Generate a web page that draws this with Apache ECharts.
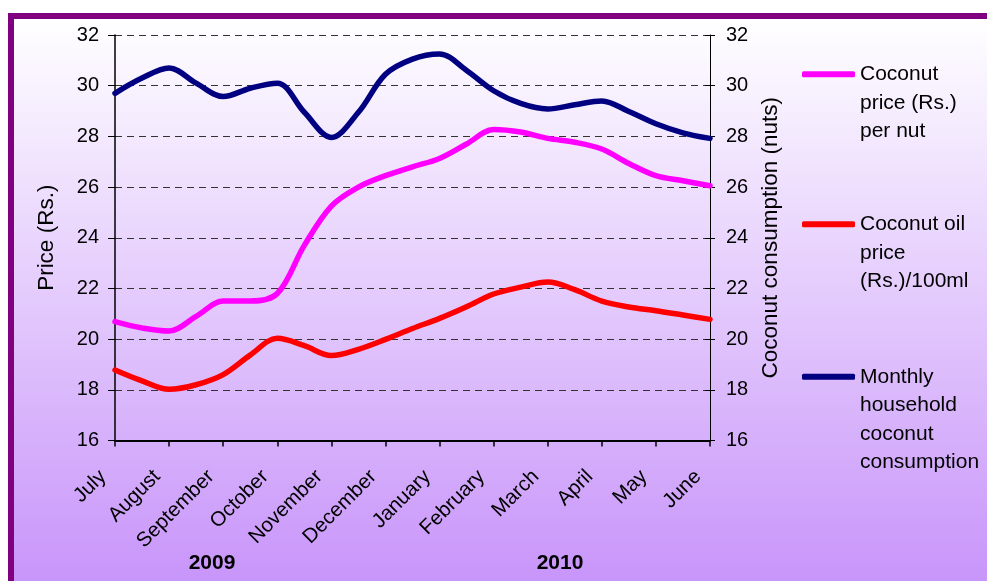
<!DOCTYPE html>
<html><head><meta charset="utf-8">
<script src="https://cdn.jsdelivr.net/npm/echarts@6/dist/echarts.min.js"></script>
<style>html,body{margin:0;padding:0;background:#fff}#c{width:987px;height:581px}</style>
</head><body><div id="c"></div>
<script>
const months = ['July','August','September','October','November','December','January','February','March','April','May','June'];
const timePoints = [0,0.5,1,1.5,2,2.5,3,3.5,4,4.5,5,5.5,6,6.5,7,7.5,8,8.5,9,9.5,10,10.5,11];
const coconutPrice = [20.69,20.44,20.32,20.9,21.5,21.5,21.8,23.7,25.25,26.0,26.45,26.8,27.13,27.7,28.27,28.17,27.92,27.77,27.5,26.93,26.45,26.25,26.05];
const coconutOilPrice = [18.78,18.35,18.02,18.2,18.6,19.37,20.03,19.74,19.35,19.6,19.99,20.42,20.82,21.28,21.78,22.05,22.25,21.95,21.5,21.27,21.12,20.95,20.78];
const consumption = [29.7,30.3,30.7,30.1,29.57,29.9,30.1,28.95,27.96,28.95,30.45,31.05,31.25,30.6,29.8,29.3,29.08,29.25,29.4,28.98,28.5,28.14,27.92];
const seriesNames = ['Coconut price (Rs.) per nut','Coconut oil price (Rs.)/100ml','Monthly household coconut consumption'];
const legendLabels = ['Coconut\nprice (Rs.)\nper nut','Coconut oil\nprice\n(Rs.)/100ml','Monthly\nhousehold\ncoconut\nconsumption'];
const yearLabels = ['2009','2010'];
const yMin = 16, yMax = 32, yStep = 2;
const leftAxisName = 'Price (Rs.)';
const rightAxisName = 'Coconut consumption (nuts)';

const FONT = "'Liberation Sans', Arial, sans-serif";
const colors = ['#FF00FF','#FF0000','#000080'];
const seriesData = [coconutPrice, coconutOilPrice, consumption];
const LH = 28.5;
const legendTops = [3, 153, 277];

const chart = echarts.init(document.getElementById('c'), null, {renderer:'canvas'});
const option = {
  animation: false,
  textStyle: {fontFamily: FONT},
  grid: {left: 115, right: 277, top: 35, bottom: 140.5},
  xAxis: {
    type: 'value', min: 0, max: 11, interval: 1,
    axisLine: {show: true, onZero: false, lineStyle: {color: '#000', width: 2}},
    axisTick: {show: true, length: 6, lineStyle: {color: '#000', width: 1.5}},
    splitLine: {show: false},
    axisLabel: {
      rotate: 45, margin: 21,
      fontSize: 20.5, color: '#000', fontFamily: FONT,
      showMinLabel: true, showMaxLabel: true,
      formatter: v => '{m|' + (months[v] || '') + '}',
      rich: {m: {fontSize: 20.5, color: '#000', fontFamily: FONT, padding: [0, 17, 0, 0]}}
    }
  },
  yAxis: [
    {
      type: 'value', min: yMin, max: yMax, interval: yStep, position: 'left',
      name: leftAxisName, nameLocation: 'middle', nameRotate: 90, nameGap: 57,
      nameTextStyle: {fontSize: 22.5, color: '#000', fontFamily: FONT},
      axisLine: {show: true, lineStyle: {color: '#000', width: 1.5}},
      axisTick: {show: true, length: 7, lineStyle: {color: '#000', width: 1}},
      axisLabel: {fontSize: 20, color: '#000', margin: 16, fontFamily: FONT},
      splitLine: {show: true, lineStyle: {color: '#333', width: 1, type: [7, 5]}}
    },
    {
      type: 'value', min: yMin, max: yMax, interval: yStep, position: 'right',
      name: rightAxisName, nameLocation: 'middle', nameRotate: 90, nameGap: 39,
      nameTextStyle: {fontSize: 22.5, color: '#000', fontFamily: FONT},
      axisLine: {show: true, lineStyle: {color: '#000', width: 1}},
      axisTick: {show: true, length: 5, lineStyle: {color: '#000', width: 1}},
      axisLabel: {fontSize: 20, color: '#000', margin: 16, fontFamily: FONT},
      splitLine: {show: false}
    },
    {
      type: 'value', min: yMin, max: yMax, interval: yStep, position: 'right',
      axisLine: {show: false},
      axisTick: {show: true, inside: true, length: 5, lineStyle: {color: '#000', width: 1}},
      axisLabel: {show: false},
      splitLine: {show: false}
    }
  ],
  legend: legendLabels.map((lab, i) => {
    const n = lab.split('\n').length;
    return {
      left: 802, top: legendTops[i], orient: 'vertical', padding: 0,
      itemWidth: 53, itemHeight: 6, icon: 'roundRect', selectedMode: false,
      data: [seriesNames[i]],
      formatter: () => '\n'.repeat(n - 1) + lab,
      textStyle: {fontSize: 21, lineHeight: LH, color: '#000', fontFamily: FONT}
    };
  }),
  graphic: [
    {type: 'rect', z: -100, silent: true, shape: {x: 14, y: 19, width: 973, height: 562},
      style: {fill: new echarts.graphic.LinearGradient(0, 0, 0, 1, [{offset: 0, color: '#FFFFFF'}, {offset: 1, color: '#C895FA'}])}},
    {type: 'rect', z: -99, silent: true, shape: {x: 8, y: 13, width: 979, height: 6}, style: {fill: '#800080'}},
    {type: 'rect', z: -99, silent: true, shape: {x: 8, y: 13, width: 6, height: 568}, style: {fill: '#800080'}},
    {type: 'text', silent: true, x: 212, y: 563, style: {text: yearLabels[0], fontSize: 21, fontWeight: 'bold', fontFamily: FONT, fill: '#000', align: 'center', verticalAlign: 'middle'}},
    {type: 'text', silent: true, x: 560, y: 563, style: {text: yearLabels[1], fontSize: 21, fontWeight: 'bold', fontFamily: FONT, fill: '#000', align: 'center', verticalAlign: 'middle'}}
  ],
  series: seriesNames.map((name, i) => ({
    name: name, type: 'line', yAxisIndex: i === 2 ? 1 : 0,
    data: timePoints.map((t, k) => [t, seriesData[i][k]]),
    smooth: 0.35, showSymbol: false, symbol: 'none', clip: false,
    lineStyle: {color: colors[i], width: 5.5, cap: 'round', join: 'round'},
    itemStyle: {color: colors[i]},
    color: colors[i]
  }))
};
chart.setOption(option);
</script></body></html>
